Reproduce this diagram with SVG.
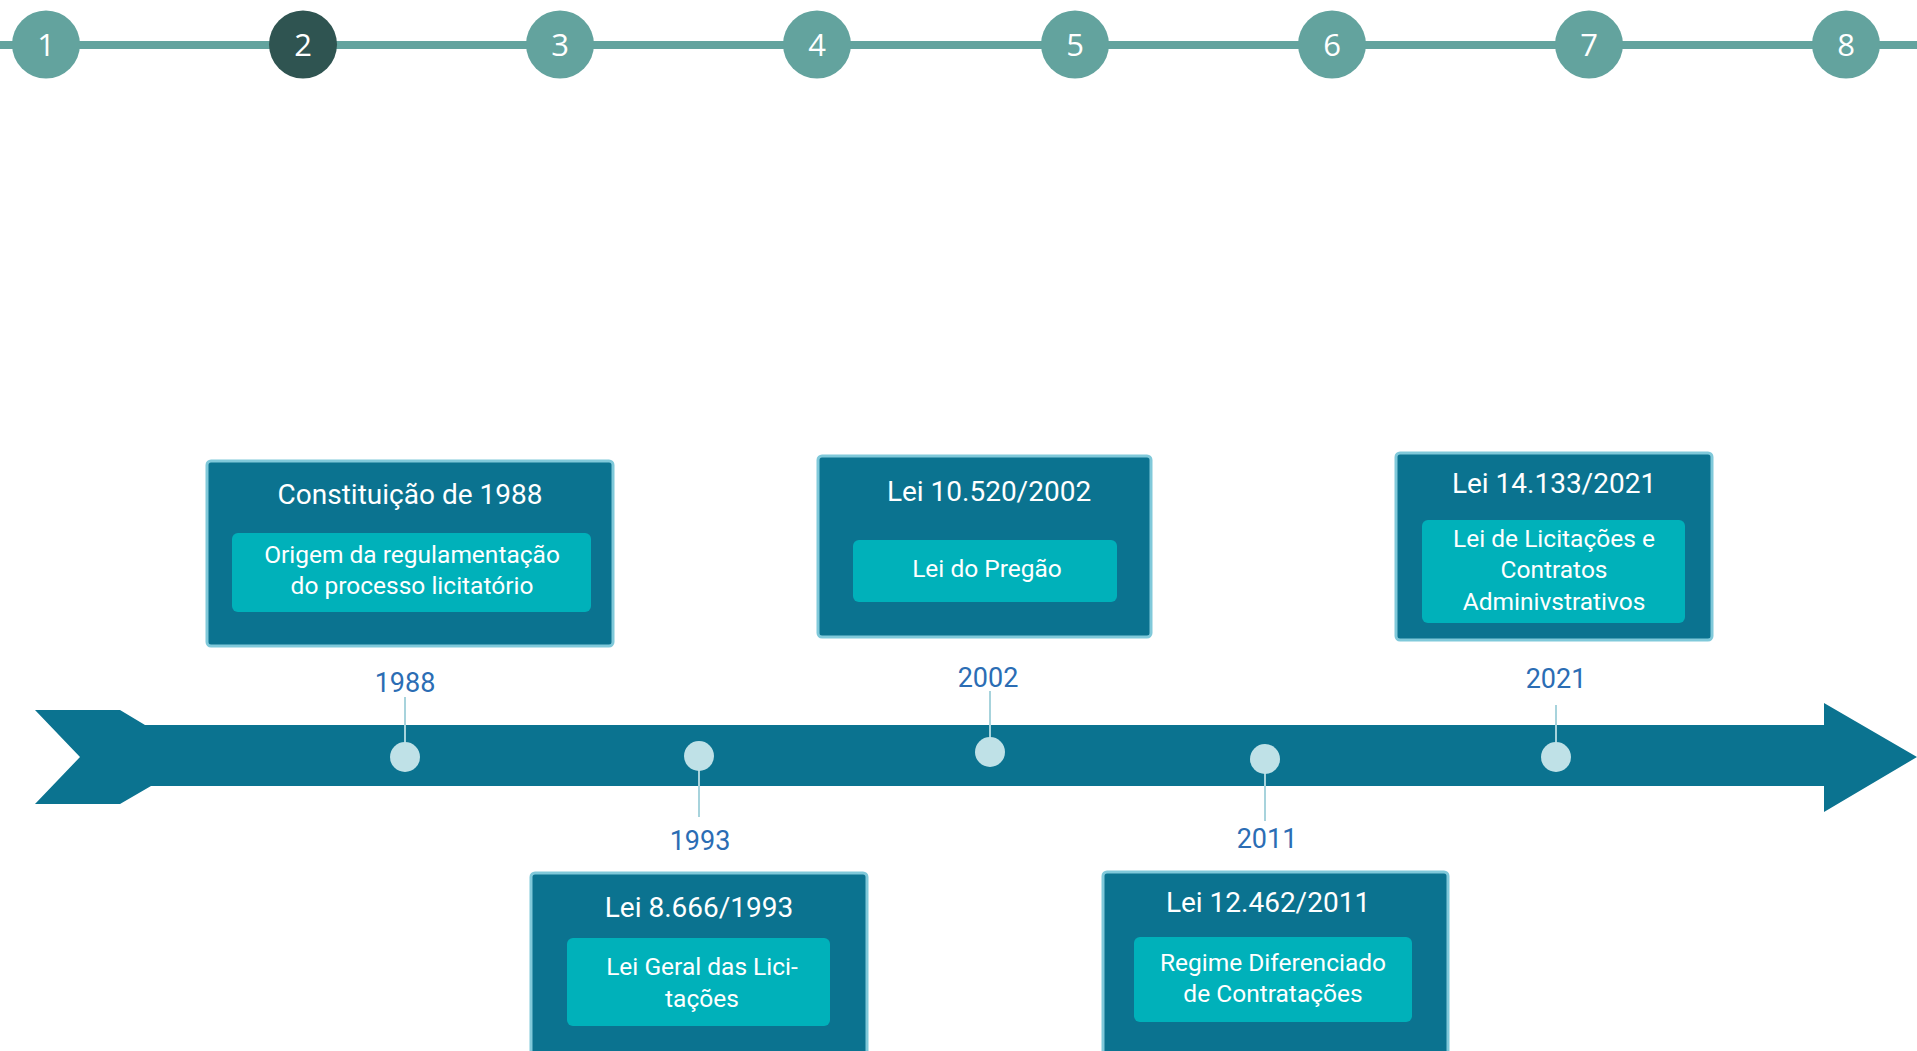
<svg xmlns="http://www.w3.org/2000/svg" width="1917" height="1051" viewBox="0 0 1917 1051">
  <style>
    .step { fill: #63a39e; }
    .step.active { fill: #2f5451; }
    .stepnum { font-family: "Open Sans", "DejaVu Sans", sans-serif; font-size: 31px; fill: #ffffff; text-anchor: middle; }
    .card { fill: #0b7390; stroke: #80c9da; stroke-width: 3; }
    .inner { fill: #00b1ba; }
    .title { font-family: Roboto, "Liberation Sans", sans-serif; font-size: 28px; font-weight: 400; fill: #ffffff; text-anchor: middle; }
    .desc { font-family: Roboto, "Liberation Sans", sans-serif; font-size: 24.5px; fill: #ffffff; text-anchor: middle; }
    .year { font-family: Roboto, "Liberation Sans", sans-serif; font-size: 27px; font-weight: 400; fill: #2b6db4; text-anchor: middle; }
    .dot { fill: #bfe1e7; }
    .tick { stroke: #a7d3dc; stroke-width: 2; }
  </style>

  <rect width="1917" height="1051" fill="#ffffff"/>

  <!-- step indicator -->
  <g id="steps">
    <rect x="0" y="41" width="1917" height="8" fill="#63a39e"/>
    <g id="step-1"><circle class="step" cx="46" cy="44.5" r="34"/><text class="stepnum" x="46" y="56">1</text></g>
    <g id="step-2"><circle class="step active" cx="303" cy="44.5" r="34"/><text class="stepnum" x="303" y="56">2</text></g>
    <g id="step-3"><circle class="step" cx="560" cy="44.5" r="34"/><text class="stepnum" x="560" y="56">3</text></g>
    <g id="step-4"><circle class="step" cx="817" cy="44.5" r="34"/><text class="stepnum" x="817" y="56">4</text></g>
    <g id="step-5"><circle class="step" cx="1075" cy="44.5" r="34"/><text class="stepnum" x="1075" y="56">5</text></g>
    <g id="step-6"><circle class="step" cx="1332" cy="44.5" r="34"/><text class="stepnum" x="1332" y="56">6</text></g>
    <g id="step-7"><circle class="step" cx="1589" cy="44.5" r="34"/><text class="stepnum" x="1589" y="56">7</text></g>
    <g id="step-8"><circle class="step" cx="1846" cy="44.5" r="34"/><text class="stepnum" x="1846" y="56">8</text></g>
  </g>

  <!-- main timeline arrow -->
  <g id="timeline">
    <polygon fill="#0b7390" points="35,710 120,710 145,725 1824,725 1824,703 1917,757 1824,812 1824,786 151,786 120,804 35,804 80,757"/>
  </g>

  <!-- ticks linking years to the timeline -->
  <g id="connectors">
    <line class="tick" x1="405" y1="697" x2="405" y2="745"/>
    <line class="tick" x1="699" y1="768" x2="699" y2="817"/>
    <line class="tick" x1="990" y1="691" x2="990" y2="740"/>
    <line class="tick" x1="1265" y1="771" x2="1265" y2="821"/>
    <line class="tick" x1="1556" y1="705" x2="1556" y2="745"/>
  </g>

  <g id="dots">
    <circle class="dot" cx="405" cy="757" r="15"/>
    <circle class="dot" cx="699" cy="756" r="15"/>
    <circle class="dot" cx="990" cy="752" r="15"/>
    <circle class="dot" cx="1265" cy="759" r="15"/>
    <circle class="dot" cx="1556" cy="757" r="15"/>
  </g>

  <g id="years">
    <text class="year" x="405" y="692">1988</text>
    <text class="year" x="700" y="850">1993</text>
    <text class="year" x="988" y="687">2002</text>
    <text class="year" x="1267" y="848">2011</text>
    <text class="year" x="1556" y="688">2021</text>
  </g>

  <!-- event cards -->
  <g id="card-1988">
    <rect class="card" x="207" y="461" width="406" height="185" rx="4"/>
    <text class="title" x="410" y="504">Constituição de 1988</text>
    <rect class="inner" x="232" y="533" width="359" height="79" rx="6"/>
    <text class="desc" x="412" y="563">Origem da regulamentação</text>
    <text class="desc" x="412" y="594">do processo licitatório</text>
  </g>

  <g id="card-1993">
    <rect class="card" x="531" y="873" width="336" height="200" rx="4"/>
    <text class="title" x="699" y="917">Lei 8.666/1993</text>
    <rect class="inner" x="567" y="938" width="263" height="88" rx="6"/>
    <text class="desc" x="702" y="975">Lei Geral das Lici-</text>
    <text class="desc" x="702" y="1007">tações</text>
  </g>

  <g id="card-2002">
    <rect class="card" x="818" y="456" width="333" height="181" rx="4"/>
    <text class="title" x="989" y="501">Lei 10.520/2002</text>
    <rect class="inner" x="853" y="540" width="264" height="62" rx="6"/>
    <text class="desc" x="987" y="577">Lei do Pregão</text>
  </g>

  <g id="card-2011">
    <rect class="card" x="1103" y="872" width="345" height="200" rx="4"/>
    <text class="title" x="1268" y="912">Lei 12.462/2011</text>
    <rect class="inner" x="1134" y="937" width="278" height="85" rx="6"/>
    <text class="desc" x="1273" y="971">Regime Diferenciado</text>
    <text class="desc" x="1273" y="1002">de Contratações</text>
  </g>

  <g id="card-2021">
    <rect class="card" x="1396" y="453" width="316" height="187" rx="4"/>
    <text class="title" x="1554" y="493">Lei 14.133/2021</text>
    <rect class="inner" x="1422" y="520" width="263" height="103" rx="6"/>
    <text class="desc" x="1554" y="547">Lei de Licitações e</text>
    <text class="desc" x="1554" y="578">Contratos</text>
    <text class="desc" x="1554" y="610">Adminivstrativos</text>
  </g>
</svg>
